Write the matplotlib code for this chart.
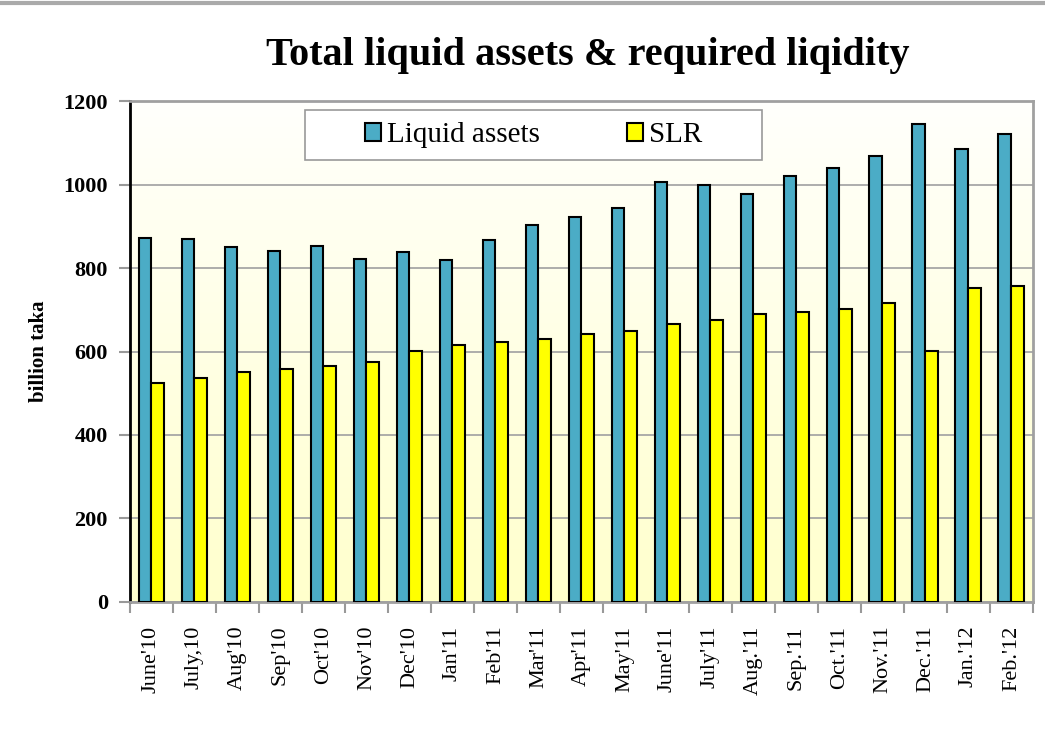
import numpy as np
import matplotlib
matplotlib.use("Agg")
import matplotlib.pyplot as plt
from matplotlib.lines import Line2D

months = ["June'10", "July,10", "Aug'10", "Sep'10", "Oct'10", "Nov'10", "Dec'10",
          "Jan'11", "Feb'11", "Mar'11", "Apr'11", "May'11", "June'11", "July'11",
          "Aug.'11", "Sep.'11", "Oct.'11", "Nov.'11", "Dec.'11", "Jan.'12", "Feb.'12"]
liquid = [872, 870, 850, 840, 852, 822, 838, 820, 866, 903, 922, 943,
          1007, 1000, 978, 1020, 1040, 1068, 1145, 1085, 1120]
slr = [525, 537, 550, 558, 565, 575, 602, 615, 623, 630, 641, 650,
       665, 675, 690, 695, 703, 715, 602, 752, 758]

serif = ['Liberation Serif', 'DejaVu Serif']

fig = plt.figure(figsize=(10.45, 7.44), dpi=100)
ax = fig.add_axes([0.1244, 0.1909, 0.864, 0.6733])

x = np.arange(len(months))
w = 0.3

# gradient background: pale yellow at the bottom, near white at the top
grad = np.linspace(0, 1, 256).reshape(-1, 1)
bot = np.array([1.0, 1.0, 0.80])
top = np.array([1.0, 1.0, 0.99])
img = bot + (top - bot) * grad[:, :, None]
ax.imshow(img, extent=(-0.5, len(months) - 0.5, 0, 1200), origin='lower',
          aspect='auto', zorder=0)

ax.bar(x - w / 2, liquid, w, color='#4bacc6', edgecolor='black', linewidth=1.5, zorder=3)
ax.bar(x + w / 2, slr, w, color='#ffff00', edgecolor='black', linewidth=1.5, zorder=3)

ax.set_xlim(-0.5, len(months) - 0.5)
ax.set_ylim(0, 1200)
ax.set_yticks(range(0, 1201, 200))
ax.yaxis.grid(True, color='#a0a0a0', linewidth=1.2, zorder=1)
ax.set_axisbelow(True)

ax.set_xticks(x)
ax.set_xticklabels(months, rotation=90, family=serif, fontsize=16)
ax.set_xticks(np.arange(-0.5, len(months)), minor=True)
ax.tick_params(axis='x', which='major', length=0, pad=17)
ax.tick_params(axis='x', which='minor', length=8, color='#999999', width=1.5)
ax.tick_params(axis='y', length=8, color='#999999', width=1.5, pad=8)
for lab in ax.get_yticklabels():
    lab.set_family(serif)
    lab.set_fontsize(16)
    lab.set_fontweight('bold')

ax.set_ylabel('billion taka', family=serif, fontsize=15, fontweight='bold', labelpad=10)

ax.spines['left'].set_color('black')
ax.spines['left'].set_linewidth(2)
for s in ['top', 'right', 'bottom']:
    ax.spines[s].set_color('#a0a0a0')
    ax.spines[s].set_linewidth(2)

# legend frame drawn separately so it can be wider than the entries
ax.add_patch(plt.Rectangle((0.194, 0.882), 0.506, 0.100, transform=ax.transAxes,
                           facecolor='white', edgecolor='#999999', linewidth=1.2, zorder=4))
handles = [
    plt.Rectangle((0, 0), 1, 1, facecolor='#4bacc6', edgecolor='black', linewidth=1.5),
    plt.Rectangle((0, 0), 1, 1, facecolor='#ffff00', edgecolor='black', linewidth=1.5),
]
leg = ax.legend(handles, ['Liquid assets', 'SLR'], loc='center',
                bbox_to_anchor=(0.447, 0.932), ncol=2, frameon=False,
                prop={'family': serif, 'size': 21}, handlelength=0.55, handleheight=0.55,
                handletextpad=0.2, columnspacing=3.0)
leg.set_zorder(5)

fig.text(0.562, 0.926, 'Total liquid assets & required liqidity', ha='center', va='center',
         family=serif, fontsize=29, fontweight='bold')

fig.add_artist(Line2D([0, 1], [0.996, 0.996], color='#aaaaaa', linewidth=3))

fig.savefig('out.png', dpi=100)
